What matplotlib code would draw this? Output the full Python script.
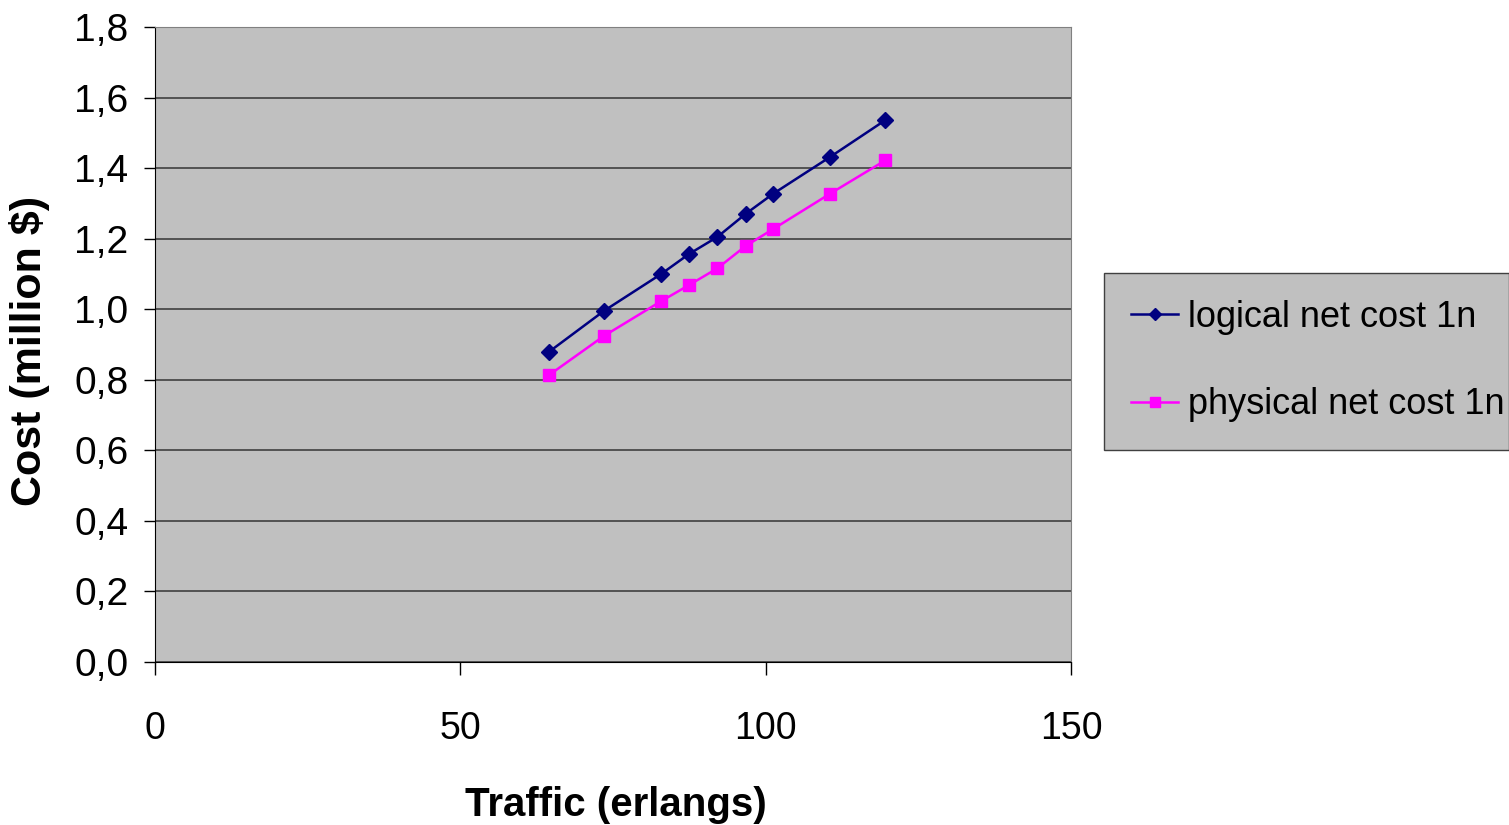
import matplotlib.pyplot as plt
from matplotlib.ticker import FuncFormatter

# データ
traffic = [64.5, 73.5, 82.9, 87.4, 92.1, 96.7, 101.2, 110.5, 119.6]
logical_cost = [0.879, 0.995, 1.100, 1.156, 1.205, 1.270, 1.327, 1.431, 1.536]
physical_cost = [0.813, 0.924, 1.023, 1.068, 1.116, 1.179, 1.227, 1.327, 1.422]
x_ticks = [0, 50, 100, 150]
y_ticks = [0.0, 0.2, 0.4, 0.6, 0.8, 1.0, 1.2, 1.4, 1.6, 1.8]

plt.rcParams['font.family'] = ['Liberation Sans', 'DejaVu Sans']

fig = plt.figure(figsize=(15.09, 8.25), dpi=100)
ax = fig.add_axes([155/1509, 1-662/825, 916/1509, 635/825])
ax.set_facecolor('#C0C0C0')

ax.plot(traffic, logical_cost, color='#000080', lw=1.8, marker='D', ms=8,
        label='logical net cost 1n')
ax.plot(traffic, physical_cost, color='#FF00FF', lw=1.8, marker='s', ms=9,
        label='physical net cost 1n')

ax.set_xlim(0, 150)
ax.set_ylim(0, 1.8)
ax.set_xticks(x_ticks)
ax.set_yticks(y_ticks)
ax.yaxis.set_major_formatter(FuncFormatter(lambda v, p: ('%.1f' % v).replace('.', ',')))
ax.grid(axis='y', color='#404040', lw=1.2)
ax.set_axisbelow(True)

ax.tick_params(axis='x', direction='out', length=9, width=1, pad=26, labelsize=27)
ax.tick_params(axis='y', direction='out', length=8, width=1, pad=11, labelsize=28)

for s in ['top', 'right']:
    ax.spines[s].set_color('#808080')
for s in ['left', 'bottom']:
    ax.spines[s].set_color('black')

ax.set_xlabel('Traffic (erlangs)', fontsize=29, fontweight='bold')
ax.xaxis.set_label_coords(0.503, -0.195)
ax.set_ylabel('Cost (million $)', fontsize=31, fontweight='bold')
ax.yaxis.set_label_coords(-0.115, 0.49)

leg = fig.legend(loc='upper left', bbox_to_anchor=(1104/1509, 1-455/825, 405/1509, 182/825),
                 mode='expand', fontsize=26, frameon=True, fancybox=False,
                 facecolor='#C0C0C0', edgecolor='#404040', handlelength=1.3,
                 handletextpad=0.28, labelspacing=1.45, borderpad=0.75, borderaxespad=0,
                 markerscale=0.8)
leg.get_frame().set_alpha(1)

fig.savefig('out.png', dpi=100)
